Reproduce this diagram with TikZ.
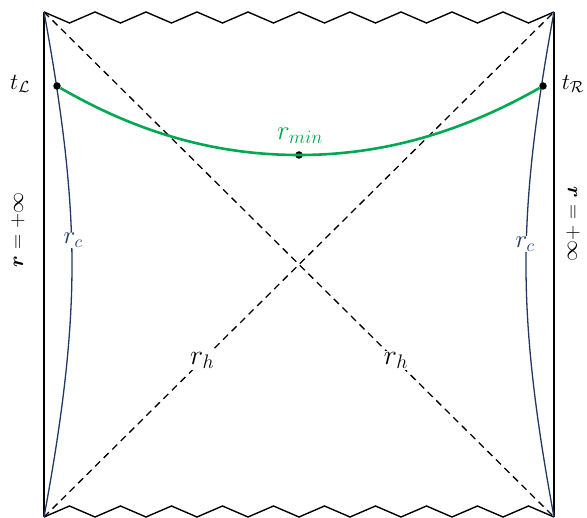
\documentclass[tikz,border=0pt]{standalone}
\usepackage{fix-cm}
\usepackage{amsmath,amssymb}
\usepackage{tikz}
\usetikzlibrary{calc}
\definecolor{azulRC}{RGB}{31,56,100}
\definecolor{verdeMin}{RGB}{0,168,80}

\begin{document}
\begin{tikzpicture}[
  x=1pt, y=-1pt,
  wall/.style    = {line width=2.4pt, black},
  sing/.style    = {line width=1.4pt, black, line join=miter},
  horizon/.style = {line width=1.3pt, dash pattern=on 7pt off 5pt, black},
  rcurve/.style  = {line width=1.3pt, color=azulRC},
  minline/.style = {line width=2.6pt, color=verdeMin},
  dot/.style     = {circle, fill=black, inner sep=0pt, minimum size=7.5pt},
  lbl/.style     = {fill=white, inner sep=1.5pt, font=\fontsize{28}{32}\selectfont},
]
\useasboundingbox (0,0) rectangle (587,518);

% ── Esquinas ─────────────────────────────────────────────────
\coordinate (TL) at (44,12);
\coordinate (TR) at (554,12);
\coordinate (BL) at (44,517);
\coordinate (BR) at (554,517);

% ── Bordes r = +inf y singularidades ─────────────────────────
\draw[wall] (TL) -- (BL);
\draw[wall] (TR) -- (BR);
\draw[sing] (TL) \foreach \i in {1,...,10} { -- ++(25.5,11) -- ++(25.5,-11) };
\draw[sing] (BL) \foreach \i in {1,...,10} { -- ++(25.5,-11) -- ++(25.5,11) };

% ── Horizontes ───────────────────────────────────────────────
\draw[horizon] (BL) -- node[lbl, pos=0.31] {$r_h$} (TR);
\draw[horizon] (TL) -- node[lbl, pos=0.69] {$r_h$} (BR);

% ── Curvas r_c ───────────────────────────────────────────────
\draw[rcurve] (TL) .. controls (62,110) and (72,190) .. (72,265)
                   .. controls (72,340) and (62,420) .. (BL);
\draw[rcurve] (TR) .. controls (536,110) and (526,190) .. (526,265)
                   .. controls (526,340) and (536,420) .. (BR);
\node[lbl, text=azulRC, font=\fontsize{25}{29}\selectfont, inner sep=0.5pt] (rcL) at (73,240) {$r_c$};
\node[lbl, text=azulRC, font=\fontsize{25}{29}\selectfont, inner sep=0.5pt] (rcR) at (525,244) {$r_c$};

% ── Superficie r_min ─────────────────────────────────────────
\node[dot] (tL)   at (57,86)  {};
\node[dot] (tR)   at (543,86) {};
\node[dot] (rmin) at (299,155) {};
\draw[minline] (tL) .. controls (150,140) and (230,155) .. (rmin.center)
                    .. controls (368,155) and (448,140) .. (tR);
\node[text=verdeMin, font=\fontsize{27}{31}\selectfont] (rminlbl) at (300,136) {$r_{min}$};

% ── Etiquetas ────────────────────────────────────────────────
\node[font=\fontsize{23}{27}\selectfont] (tLlbl) at (20,84) {$t_{\mathcal{L}}$};
\node[font=\fontsize{23}{27}\selectfont] (tRlbl) at (573,84) {$t_{\mathcal{R}}$};
\node[rotate=90,  inner sep=0pt, font=\fontsize{21}{25}\selectfont] (infL) at (18,230)  {$\boldsymbol{r}=+\infty$};
\node[rotate=-90, inner sep=0pt, font=\fontsize{21}{25}\selectfont] (infR) at (573,224) {$\boldsymbol{r}=+\infty$};

\end{tikzpicture}
\end{document}
